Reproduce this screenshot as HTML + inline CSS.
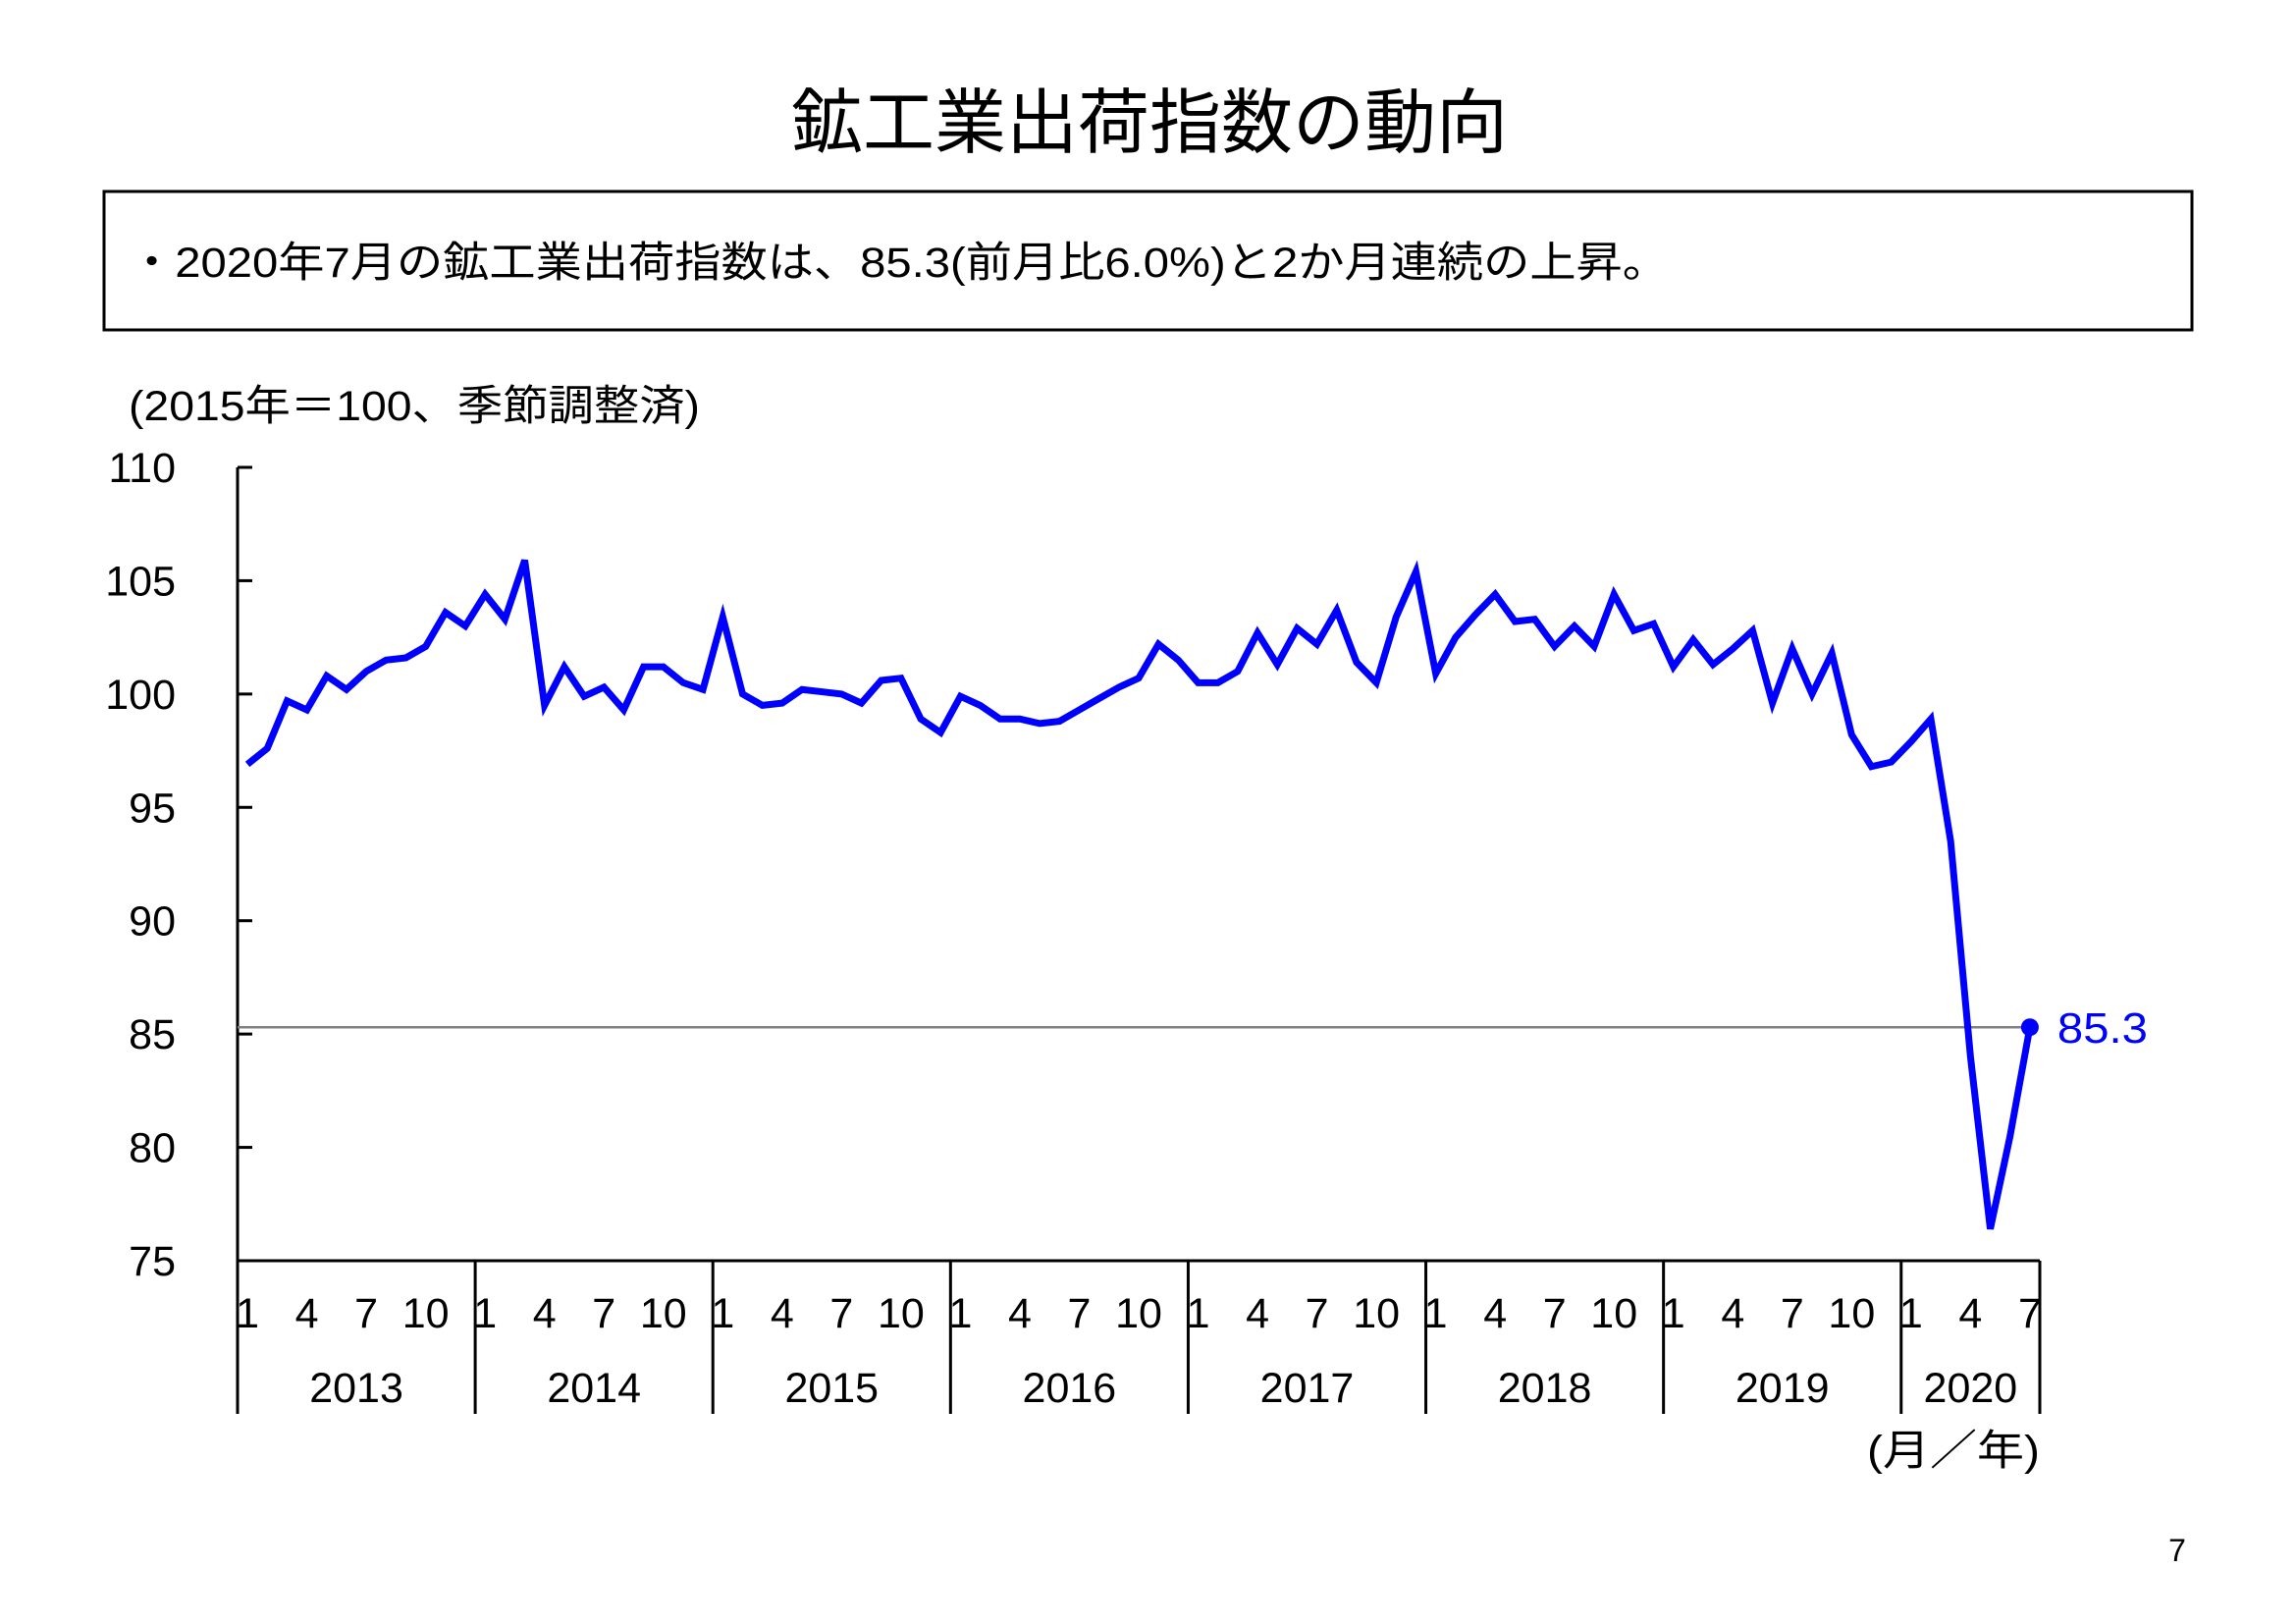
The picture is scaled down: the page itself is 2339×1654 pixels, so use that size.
<!DOCTYPE html>
<html><head><meta charset="utf-8"><style>
html,body{margin:0;padding:0;background:#fff;}
svg{display:block;font-family:"Liberation Sans","Noto Sans CJK JP",sans-serif;}
</style></head><body>
<svg id="chart" width="2339" height="1654" viewBox="0 0 2339 1654" xmlns="http://www.w3.org/2000/svg">
<text x="1171" y="150" font-size="72" text-anchor="middle" fill="#000" textLength="730" lengthAdjust="spacingAndGlyphs">鉱工業出荷指数の動向</text>
<rect x="106" y="195" width="2127" height="141" fill="none" stroke="#000" stroke-width="3"/>
<text x="131" y="282" font-size="43" fill="#000" textLength="1569" lengthAdjust="spacingAndGlyphs">・2020年7月の鉱工業出荷指数は、85.3(前月比6.0%)と2か月連続の上昇。</text>
<text x="131" y="428" font-size="43" fill="#000" textLength="582" lengthAdjust="spacingAndGlyphs">(2015年＝100、季節調整済)</text>
<g id="yaxis"></g>
<g id="xaxis"></g>
<g id="series"></g>
<text x="2078" y="1492" font-size="43" text-anchor="end" fill="#000" textLength="176" lengthAdjust="spacingAndGlyphs">(月／年)</text>
<text x="2218" y="1590" font-size="32" text-anchor="middle" fill="#000">7</text>
</svg>
<script>
const years = ["2013","2014","2015","2016","2017","2018","2019","2020"];
const monthTicks = ["1","4","7","10"];
const yTicks = [75,80,85,90,95,100,105,110];
const values = [
96.9,97.6,99.7,99.3,100.8,100.2,101.0,101.5,101.6,102.1,103.6,103.0,
104.4,103.3,105.9,99.5,101.2,99.9,100.3,99.3,101.2,101.2,100.5,100.2,
103.4,100.0,99.5,99.6,100.2,100.1,100.0,99.6,100.6,100.7,98.9,98.3,
99.9,99.5,98.9,98.9,98.7,98.8,99.3,99.8,100.3,100.7,102.2,101.5,
100.5,100.5,101.0,102.7,101.3,102.9,102.2,103.7,101.4,100.5,103.4,105.4,
100.9,102.5,103.5,104.4,103.2,103.3,102.1,103.0,102.1,104.4,102.8,103.1,
101.2,102.4,101.3,102.0,102.8,99.6,102.0,100.0,101.8,98.2,96.8,97.0,
97.9,98.9,93.5,84.0,76.4,80.5,85.3
];
const lastLabel = "85.3";

const NS="http://www.w3.org/2000/svg";
const L=242,R=2078,T=476,B=1284,yMin=75,yMax=110;
const n=values.length;
const step=(R-L)/n;
const xs=i=>L+(i+0.5)*step;
const ys=v=>B-(v-yMin)/(yMax-yMin)*(B-T);
function mk(tag,attrs,parent){const e=document.createElementNS(NS,tag);for(const k in attrs)e.setAttribute(k,attrs[k]);parent.appendChild(e);return e;}
const ya=document.getElementById('yaxis'),xa=document.getElementById('xaxis'),sg=document.getElementById('series');
let e=mk('line',{x1:L,y1:T,x2:L,y2:B,stroke:'#000','stroke-width':3},ya);


yTicks.forEach(v=>{
  let t=mk('line',{x1:L,y1:ys(v),x2:L+15,y2:ys(v),stroke:'#000','stroke-width':3},ya);
  
  
  let l=mk('text',{x:179,y:ys(v)+15,'font-size':43,'text-anchor':'end',fill:'#000'},ya);
  
  
  l.textContent=v;
});
e=mk('line',{x1:L,y1:B,x2:R,y2:B,stroke:'#000','stroke-width':3},xa);


years.forEach((y,yi)=>{
  const x0=L+yi*12*step;
  let s=mk('line',{x1:x0,y1:B,x2:x0,y2:1440,stroke:'#000','stroke-width':3},xa);
  
  
  const cnt=Math.min(12,n-yi*12);
  let yl=mk('text',{x:x0+cnt*step/2,y:1428,'font-size':43,'text-anchor':'middle',fill:'#000'},xa);
  
  
  yl.textContent=y;
  monthTicks.forEach(m=>{
    const mi=yi*12+(+m)-1;
    if(mi>=n)return;
    let ml=mk('text',{x:xs(mi),y:1352,'font-size':43,'text-anchor':'middle',fill:'#000'},xa);
    
    
    ml.textContent=m;
  });
});
e=mk('line',{x1:R,y1:B,x2:R,y2:1440,stroke:'#000','stroke-width':3},xa);


const last=values[n-1];
let ref=mk('line',{x1:L,y1:ys(last),x2:xs(n-1),y2:ys(last),stroke:'#808080','stroke-width':2.5},sg);


let p=mk('polyline',{points:values.map((v,i)=>xs(i)+','+ys(v)).join(' '),fill:'none',stroke:'#0000ff','stroke-width':7,'stroke-linejoin':'miter'},sg);


let c=mk('circle',{cx:xs(n-1),cy:ys(last),r:9,fill:'#0000ff'},sg);


let lt=mk('text',{x:xs(n-1)+28,y:ys(last)+16,'font-size':44,fill:'#0000ff',textLength:92,lengthAdjust:'spacingAndGlyphs'},sg);


lt.textContent=lastLabel;
</script>
</body></html>
